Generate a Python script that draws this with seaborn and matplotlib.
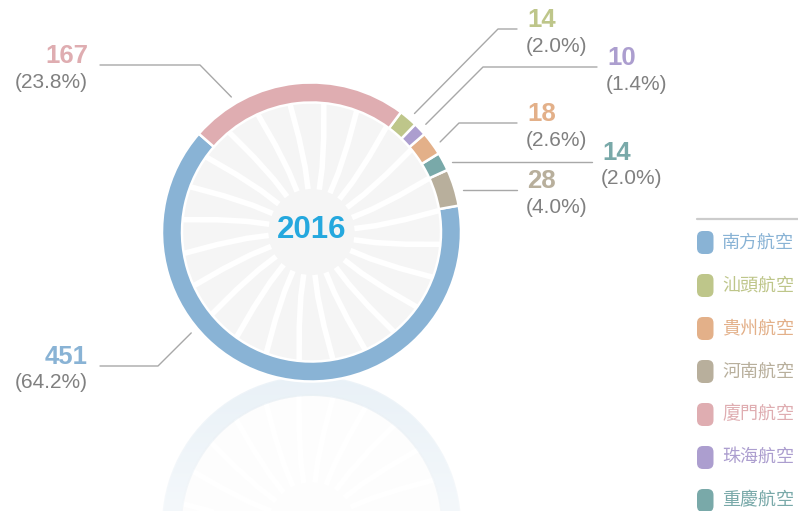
import numpy as np
import seaborn as sns
from matplotlib import pyplot as plt
from matplotlib.patches import Circle, FancyBboxPatch

# data (legend order)
airlines = ['南方航空', '汕頭航空', '貴州航空', '河南航空', '廈門航空', '珠海航空', '重慶航空']
counts = [451, 14, 18, 28, 167, 10, 14]
colors = ['#89b3d5', '#bec68a', '#e3b089', '#b8af9c', '#dfadb1', '#ac9ecf', '#79a9a9']
# order of the segments around the ring (counter-clockwise from the top-left)
ring_order = ['南方航空', '河南航空', '重慶航空', '貴州航空', '珠海航空', '汕頭航空', '廈門航空']
year = '2016'

# label layout: anchor angle on ring (deg), elbow point (px), line end x (px), side
label_layout = {
    '廈門航空': (120.7, (200, 65), 100, 'left'),
    '南方航空': (220.0, (158, 366), 100, 'left'),
    '汕頭航空': (49.0, (498, 29), 517, 'right'),
    '珠海航空': (43.3, (483, 67), 597, 'right'),
    '貴州航空': (35.0, (459, 123), 517, 'right'),
    '重慶航空': (26.5, None, 592, 'right'),
    '河南航空': (15.5, None, 517, 'right'),
}

sns.set_theme(style='white')
plt.rcParams['font.family'] = ['Liberation Sans', 'Noto Sans CJK TC', 'DejaVu Sans']

W, H = 798, 511
cx, cy = 311.5, 232
R, ring_w = 149.5, 20
start = 138.9

total = sum(counts)
color_of = dict(zip(airlines, colors))
count_of = dict(zip(airlines, counts))
ring_vals = [count_of[a] for a in ring_order]
ring_cols = sns.color_palette([color_of[a] for a in ring_order])

fig = plt.figure(figsize=(W / 100, H / 100), dpi=100)
ax = fig.add_axes([0, 0, 1, 1])


def draw_donut(center, ccw, z, alpha=1.0):
    # y axis is flipped, so visual ccw == data clockwise
    ax.add_patch(Circle(center, R - ring_w + 1, color='#f5f5f5', zorder=z, alpha=alpha))
    sgn = -1 if ccw else 1
    # decorative white spokes inside the ring
    for i in range(24):
        th0 = np.deg2rad(i * 15 + 4.6)
        rr = np.array([43, 65, 95, 131])
        th = th0 + np.deg2rad(np.array([0, 1.0, 3.0, 5.0]))
        xs = center[0] + rr * np.cos(th)
        ys = center[1] + sgn * rr * np.sin(th)
        ax.plot(xs, ys, color='white', lw=4.0, solid_capstyle='butt', zorder=z + 0.1)
    wedges, _ = ax.pie(ring_vals, colors=ring_cols, radius=R, center=center,
                       startangle=-start if ccw else start, counterclock=not ccw,
                       wedgeprops=dict(width=ring_w, edgecolor='white', linewidth=1.8))
    for w in wedges:
        w.set_zorder(z + 0.2)
        w.set_alpha(alpha)


# reflection
draw_donut((cx, 525.5), ccw=False, z=1, alpha=0.18)
fade = np.ones((200, 1, 4))
fade[:, 0, 3] = np.linspace(0.0, 0.5, 200)
ax.imshow(fade, extent=(0, W, H, 374), aspect='auto', zorder=3, interpolation='bilinear')

# main donut
draw_donut((cx, cy), ccw=True, z=5)
ax.text(cx, cy - 2, year, ha='center', va='center', fontsize=22.5, fontweight='bold',
        color='#25a8de', zorder=8)

# labels with leader lines
r_anchor = 157
for name, (ang, elbow, end_x, side) in label_layout.items():
    a = np.deg2rad(ang)
    p0 = (cx + r_anchor * np.cos(a), cy - r_anchor * np.sin(a))
    if elbow is None:
        pts = [p0, (end_x, p0[1])]
    else:
        pts = [p0, elbow, (end_x, elbow[1])]
    ax.plot([p[0] for p in pts], [p[1] for p in pts], color='#a8a8a8', lw=1, zorder=6)
    ly = pts[-1][1]
    val = count_of[name]
    pct = '({:.1f}%)'.format(val / total * 100)
    if side == 'left':
        tx, ha = end_x - 12, 'right'
    else:
        tx, ha = end_x + 10, 'left'
    ax.text(tx, ly - 9, str(val), ha=ha, va='center', fontsize=18.5, fontweight='bold',
            color=color_of[name], zorder=8)
    ax.text(tx - (0 if side == 'left' else 1), ly + 17, pct, ha=ha, va='center', fontsize=15,
            color='#808080', zorder=8)

# legend
ax.plot([697, 798], [219, 219], color='#cccccc', lw=1.6, zorder=6)
for i, name in enumerate(airlines):
    my = 242.5 + i * 43
    ax.add_patch(FancyBboxPatch((697, my - 11.5), 16.5, 23,
                                boxstyle='round,pad=0,rounding_size=6',
                                facecolor=color_of[name], edgecolor='none', zorder=6))
    ax.text(722, my, name, ha='left', va='center', fontsize=13,
            family=['Noto Sans CJK TC', 'DejaVu Sans'], color=color_of[name], zorder=8)

ax.set_xlim(0, W)
ax.set_ylim(H, 0)
ax.set_aspect('equal')
ax.axis('off')

fig.savefig('out.png', dpi=100)
